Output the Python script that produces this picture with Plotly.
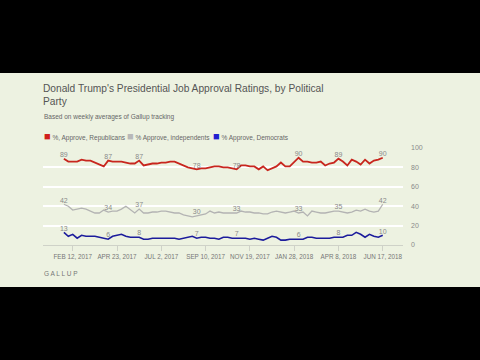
import plotly.graph_objects as go
import pandas as pd

# ---- data ----
week_start = "2017-01-29"
n_weeks = 73
republicans = [89, 86, 86, 86, 88, 87, 87, 85, 83, 81,
               87, 86, 86, 86, 85, 84, 84, 87, 82, 83,
               84, 84, 85, 85, 86, 86, 84, 82, 80, 79,
               78, 79, 79, 80, 81, 81, 80, 80, 79, 78,
               82, 82, 81, 81, 78, 81, 77, 79, 81, 85,
               81, 81, 86, 90, 86, 86, 85, 85, 86, 82,
               84, 85, 89, 86, 82, 88, 86, 83, 88, 84,
               87, 88, 90]
independents = [42, 40, 36, 37, 38, 37, 35, 33, 33, 36,
                34, 35, 35, 37, 40, 36, 33, 37, 33, 33,
                34, 34, 35, 35, 34, 33, 33, 31, 30, 29,
                30, 31, 32, 35, 33, 34, 33, 33, 33, 33,
                35, 34, 34, 33, 33, 32, 32, 34, 35, 34,
                33, 34, 35, 33, 34, 30, 35, 34, 33, 33,
                34, 35, 35, 34, 33, 34, 36, 35, 37, 35,
                34, 35, 42]
democrats = [13, 9, 11, 7, 10, 9, 9, 9, 8, 7,
             6, 9, 10, 11, 9, 8, 8, 8, 6, 6,
             7, 7, 7, 7, 7, 7, 6, 7, 8, 9,
             7, 8, 8, 7, 7, 6, 8, 8, 7, 7,
             7, 7, 6, 7, 6, 5, 7, 9, 8, 5,
             5, 6, 6, 6, 6, 8, 8, 7, 7, 7,
             7, 8, 8, 8, 10, 10, 13, 11, 8, 11,
             9, 8, 10]
label_weeks = [0, 10, 17, 30, 39, 53, 62, 72]
series_names = ["%, Approve, Republicans", "% Approve, independents", "% Approve, Democrats"]
tick_dates = ["2017-02-12", "2017-04-23", "2017-07-02", "2017-09-10",
              "2017-11-19", "2018-01-28", "2018-04-08", "2018-06-17"]
tick_labels = ["FEB 12, 2017", "APR 23, 2017", "JUL 2, 2017", "SEP 10, 2017",
               "NOV 19, 2017", "JAN 28, 2018", "APR 8, 2018", "JUN 17, 2018"]
y_ticks = [0, 20, 40, 60, 80, 100]

dates = pd.date_range(week_start, periods=n_weeks, freq="7D")

BG = "#edf2e1"
FONT = "Liberation Sans, Arial, sans-serif"
line_colors = ["#c8261e", "#b3b3b3", "#1c1c9c"]
legend_colors = ["#d0201c", "#b8b8b8", "#2020d0"]
line_widths = [1.8, 1.3, 1.6]

fig = go.Figure()
for vals, color, w in zip([republicans, independents, democrats], line_colors, line_widths):
    txt = [str(v) if i in label_weeks else "" for i, v in enumerate(vals)]
    fig.add_trace(go.Scatter(
        x=dates, y=vals, mode="lines+text", text=txt,
        textposition="top center",
        textfont=dict(family=FONT, size=7, color="#8a8a8a"),
        line=dict(color=color, width=w),
        cliponaxis=False, showlegend=False, hoverinfo="skip"))

fig.update_layout(
    width=480, height=360,
    margin=dict(l=43, r=77, t=148, b=115),
    paper_bgcolor="black", plot_bgcolor=BG,
    font=dict(family=FONT, color="#666666"),
    showlegend=False,
    title=dict(text="Donald Trump's Presidential Job Approval Ratings, by Political<br>Party",
               x=43 / 480, xanchor="left", xref="container",
               y=1 - 92 / 360, yanchor="top", yref="container",
               font=dict(family=FONT, size=10.2, color="#555555")),
    xaxis=dict(range=["2016-12-27", "2018-07-19"], showgrid=False, zeroline=False,
               showline=True, linecolor="#cfd2c8", linewidth=1,
               ticks="outside", ticklen=5, tickcolor="#cfd2c8",
               tickvals=tick_dates, ticktext=tick_labels, tickangle=0,
               tickfont=dict(family=FONT, size=6.3, color="#777777")),
    yaxis=dict(range=[0, 100], side="right", tickvals=y_ticks,
               showgrid=True, gridcolor="#ffffff", gridwidth=1.5, zeroline=False,
               ticks="", ticklabelstandoff=7,
               tickfont=dict(family=FONT, size=7, color="#8a8a8a")),
)

# green card behind the chart
fig.add_shape(type="rect", xref="paper", yref="paper",
              x0=-0.2, x1=1.3, y0=(245 - 287) / 97, y1=(245 - 73) / 97,
              fillcolor=BG, line=dict(width=0), layer="below")

def py(pix):
    return (245 - pix) / 97

def px(pix):
    return (pix - 43) / 360

fig.add_annotation(text="Based on weekly averages of Gallup tracking",
                   x=px(42), y=py(116.7), xref="paper", yref="paper",
                   xanchor="left", yanchor="middle", showarrow=False,
                   font=dict(family=FONT, size=6.5, color="#666666"))

legend_x = [42, 125, 211]
for name, color, lx in zip(series_names, legend_colors, legend_x):
    fig.add_annotation(text=f"<span style='color:{color};font-size:11px'>■</span> {name}",
                       x=px(lx), y=py(135.7), xref="paper", yref="paper",
                       xanchor="left", yanchor="middle", showarrow=False,
                       font=dict(family=FONT, size=6.5, color="#666666"))

fig.add_annotation(text="G A L L U P", x=px(42), y=py(273.3), xref="paper", yref="paper",
                   xanchor="left", yanchor="middle", showarrow=False,
                   font=dict(family=FONT, size=6.5, color="#777777"))

fig.write_html("out.html", config={"displayModeBar": False},
               post_script="document.body.style.margin='0';document.body.style.overflow='hidden';")
